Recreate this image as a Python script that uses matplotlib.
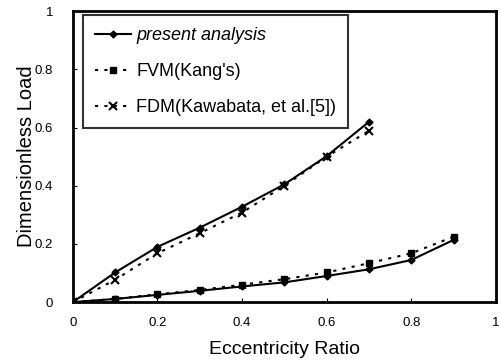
import numpy as np
import matplotlib.pyplot as plt

plt.rcParams['font.family'] = ['Liberation Sans', 'DejaVu Sans']

# upper curves (x up to 0.7)
x_up = [0, 0.1, 0.2, 0.3, 0.4, 0.5, 0.6, 0.7]
present_up = [0, 0.102, 0.19, 0.256, 0.328, 0.405, 0.502, 0.62]
fdm_up = [0, 0.077, 0.168, 0.237, 0.308, 0.40, 0.50, 0.589]

# lower curves (x up to 0.9)
x_low = [0, 0.1, 0.2, 0.3, 0.4, 0.5, 0.6, 0.7, 0.8, 0.9]
present_low = [0, 0.011, 0.025, 0.039, 0.054, 0.068, 0.09, 0.113, 0.145, 0.214]
fvm_low = [0, 0.011, 0.027, 0.042, 0.06, 0.079, 0.102, 0.134, 0.168, 0.225]

xticks = [0, 0.2, 0.4, 0.6, 0.8, 1]
yticks = [0, 0.2, 0.4, 0.6, 0.8, 1]
ticklabels = ["0", "0.2", "0.4", "0.6", "0.8", "1"]

fig = plt.figure(figsize=(5.02, 3.61), dpi=100)
ax = fig.add_axes([0.145, 0.163, 0.843, 0.806])

ax.plot(x_up, present_up, color="black", lw=1.5, marker="D", ms=3.5,
        label="present analysis")
ax.plot(x_low, fvm_low, color="black", lw=1.5, ls=(0, (1.5, 3)), marker="s", ms=5,
        label="FVM(Kang's)")
ax.plot(x_up, fdm_up, color="black", lw=1.5, ls=(0, (1.5, 3)), marker="x", ms=6,
        mew=1.5, label="FDM(Kawabata, et al.[5])")
ax.plot(x_low, present_low, color="black", lw=1.5, marker="D", ms=3.5)

ax.set_xlim(0, 1)
ax.set_ylim(0, 1)
ax.set_xticks(xticks)
ax.set_xticklabels(ticklabels)
ax.set_yticks(yticks)
ax.set_yticklabels(ticklabels)
ax.tick_params(direction="in", length=3, labelsize=9.5)
ax.tick_params(axis="x", pad=11)
ax.tick_params(axis="y", pad=14)

for s in ax.spines.values():
    s.set_linewidth(2)

ax.set_xlabel("Eccentricity Ratio", fontsize=14, labelpad=8)
ax.set_ylabel("Dimensionless Load", fontsize=14.5)
ax.yaxis.set_label_coords(-0.088, 0.5)

leg = ax.legend(loc="upper left", bbox_to_anchor=(0.024, 0.986), fontsize=13,
                frameon=True, fancybox=False, edgecolor="black",
                handlelength=2.0, handletextpad=0.3, borderaxespad=0,
                borderpad=0.65, labelspacing=1.05)
leg.get_frame().set_linewidth(1.5)
leg.get_texts()[0].set_fontstyle("italic")

fig.savefig("out.png", dpi=100)
